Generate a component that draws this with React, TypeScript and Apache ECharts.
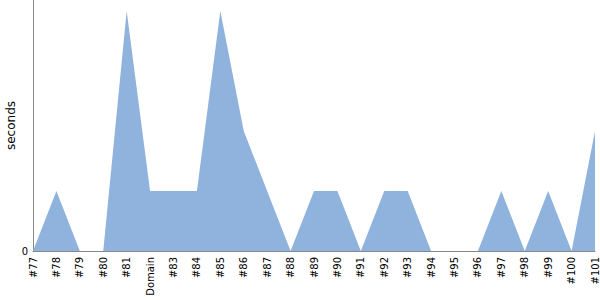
import React, { useEffect, useRef } from "react";
import * as echarts from "echarts";

const categories = ["#77", "#78", "#79", "#80", "#81", "Domain", "#83", "#84", "#85", "#86", "#87", "#88", "#89", "#90", "#91", "#92", "#93", "#94", "#95", "#96", "#97", "#98", "#99", "#100", "#101"];
const seconds = [0, 1, 0, 0, 4, 1, 1, 1, 4, 2, 1, 0, 1, 1, 0, 1, 1, 0, 0, 0, 1, 0, 1, 0, 2];
const yTicks = [0];

export default function App() {
  const ref = useRef<HTMLDivElement>(null);
  useEffect(() => {
    const chart = echarts.init(ref.current!, null, { renderer: "svg" });
    chart.setOption({
      animation: false,
      grid: { left: 33, right: 5, top: 0, bottom: 49, containLabel: false, outerBoundsMode: "none" },
      xAxis: {
        type: "category",
        data: categories,
        boundaryGap: false,
        axisLine: { lineStyle: { color: "#888", width: 1 } },
        axisTick: { show: false },
        axisLabel: { rotate: 90, color: "#000", fontSize: 10, fontFamily: "DejaVu Sans", interval: 0, margin: 6 },
      },
      yAxis: {
        type: "value",
        min: 0,
        max: 4.1833,
        name: "seconds",
        nameLocation: "middle",
        nameGap: 16,
        nameMoveOverlap: false,
        nameTextStyle: { color: "#000", fontSize: 12, fontFamily: "DejaVu Sans" },
        axisLine: { show: true, lineStyle: { color: "#888", width: 1 } },
        axisTick: { show: false },
        splitLine: { show: false },
        axisLabel: {
          color: "#000",
          fontSize: 10,
          fontFamily: "DejaVu Sans",
          margin: 5,
          formatter: (v: number) => (yTicks.includes(v) ? String(v) : ""),
        },
        interval: 4.1833,
      },
      series: [
        {
          type: "line",
          data: seconds,
          symbol: "none",
          lineStyle: { width: 0 },
          areaStyle: { color: "#8fb3dc", opacity: 1 },
        },
      ],
    });
    return () => chart.dispose();
  }, []);
  return <div ref={ref} style={{ position: "absolute", left: 0, top: 0, width: 600, height: 300 }} />;
}
